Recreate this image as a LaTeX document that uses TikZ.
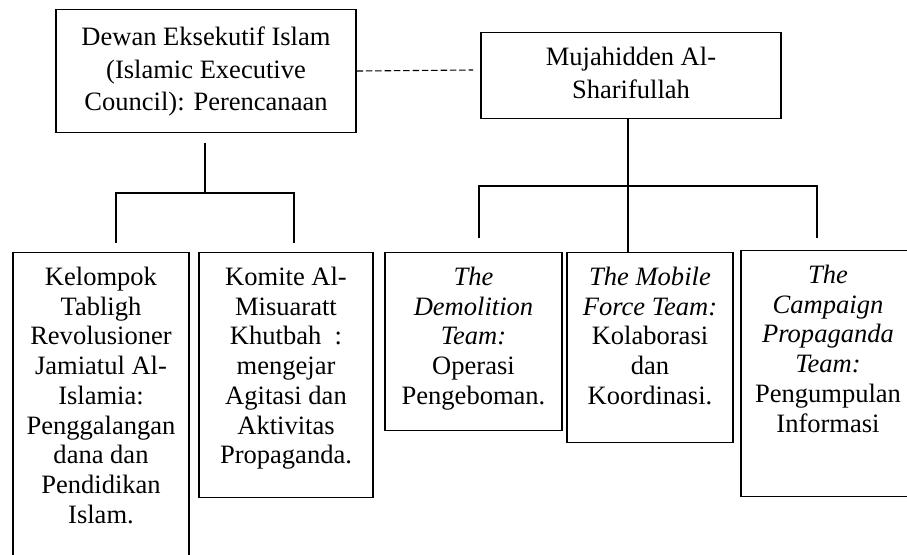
\documentclass[tikz,border=0pt]{standalone}
\usepackage{fontspec}
\setmainfont{Liberation Serif}
\usepackage{tikz}
\usetikzlibrary{calc}

\newcommand{\isi}[4]{\parbox[t][#2][t]{#1}{\centering\rule{0pt}{#3}#4}}

\begin{document}
\begin{tikzpicture}[x=0.75pt,y=-0.75pt,
  kotak/.style={draw, line width=0.8pt, inner sep=0pt, anchor=north, font={\fontsize{19.9pt}{22.3pt}\selectfont}},
  kotakatas/.style={kotak, font={\fontsize{19.9pt}{24.5pt}\selectfont}},
  garis/.style={line width=0.8pt}]
\useasboundingbox (0,0) rectangle (907,555);
\clip (0,0) rectangle (907,555);

\node[kotakatas] (dewan) at (206,9) {\isi{225pt}{92.25pt}{27pt}{Dewan Eksekutif Islam\\(Islamic Executive\\Council): Perencanaan}};
\node[kotakatas] (mujahid) at (631,32) {\isi{225pt}{64.5pt}{24.75pt}{Mujahidden Al-\\Sharifullah}};

\node[kotak] (kelompok) at (101,252) {\isi{132pt}{247.5pt}{24.75pt}{Kelompok\\Tabligh\\Revolusioner\\Jamiatul Al-\\Islamia:\\Penggalangan\\dana dan\\Pendidikan\\Islam.}};
\node[kotak] (komite) at (286,252) {\isi{130.5pt}{183.75pt}{24.75pt}{Komite Al-\\Misuaratt\\Khutbah~ :\\mengejar\\Agitasi dan\\Aktivitas\\Propaganda.}};
\node[kotak] (demolisi) at (473.5,252) {\isi{132.75pt}{133.5pt}{24.75pt}{\textit{The}\\\textit{Demolition}\\\textit{Team:}\\Operasi\\Pengeboman.}};
\node[kotak] (mobile) at (650,252) {\isi{124.5pt}{142.5pt}{24.75pt}{\textit{The Mobile}\\\textit{Force Team:}\\Kolaborasi\\dan\\Koordinasi.}};
\node[kotak] (kampanye) at (828,250) {\isi{130.5pt}{184.5pt}{24.75pt}{\textit{The}\\\textit{Campaign}\\\textit{Propaganda}\\\textit{Team:}\\Pengumpulan\\Informasi}};

% garis putus-putus
\coordinate (putus) at (473,70);
\draw[garis, dash pattern=on 4.9pt off 2.1pt] (dewan.east) -- (putus);

% cabang kiri
\coordinate (cabkiri) at (205,193);
\coordinate (kaki1) at (116,243);
\coordinate (kaki2) at (294,243);
\draw[garis] ($(dewan.south)+(-1,10)$) -- (cabkiri);
\draw[garis] (kaki1) |- (cabkiri) -| (kaki2);

% cabang kanan
\coordinate (cabkanan) at (628,186);
\coordinate (kaki3) at (479,238);
\coordinate (kaki5) at (817,238);
\draw[garis] ($(mujahid.south)+(-3,0)$) -- (cabkanan);
\draw[garis] (kaki3) |- (cabkanan) -| (kaki5);
\draw[garis] (cabkanan) -- (cabkanan |- mobile.north);
\end{tikzpicture}
\end{document}
